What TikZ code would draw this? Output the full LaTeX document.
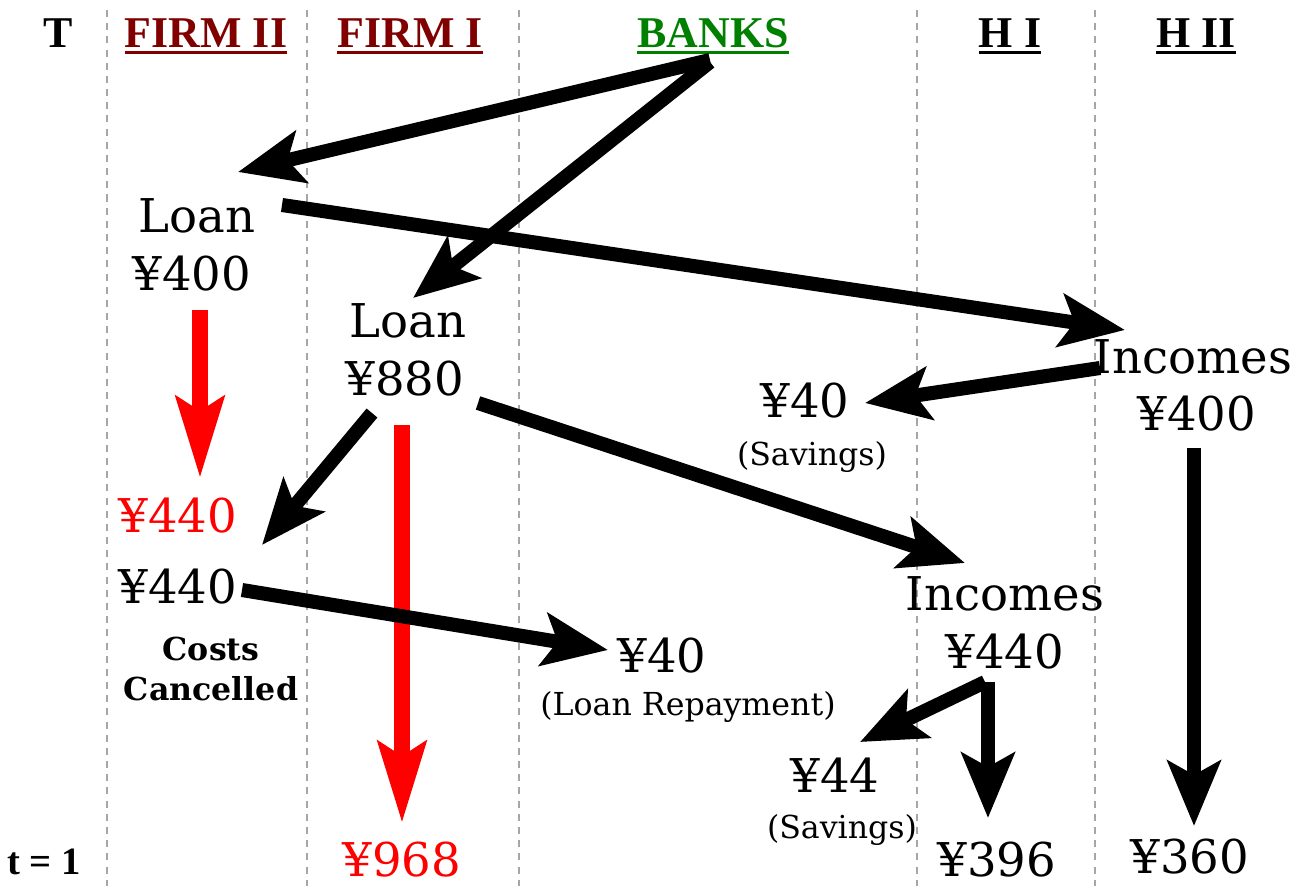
\documentclass[tikz,border=0pt]{standalone}
\usepackage{fontspec}
\setmainfont{Liberation Serif}
\newfontfamily\slabfont{DejaVu Serif}
\newcommand{\ulhead}[1]{\vtop{\hbox{#1}\kern2.2pt\hrule height1.7pt}}
\usepackage{xcolor}
\usepackage{tikz}
\usetikzlibrary{arrows.meta}
\tikzset{>={Stealth[length=37pt,width=30pt,inset=8pt]}}
\definecolor{firmred}{RGB}{128,0,0}
\definecolor{bankgreen}{RGB}{0,128,0}

\begin{document}
\begin{tikzpicture}[
				x=0.02cm, y=-0.02cm,
				lane/.style = {
					draw=gray!70, line width=0.6pt,
					dash pattern=on 4pt off 3.5pt
				},
				head/.style = {
					anchor=base, inner sep=0pt,
					font=\fontsize{25}{30}\selectfont\bfseries
				},
				amount/.style = {
					anchor=base, inner sep=0pt,
					font=\fontsize{26.5}{30}\selectfont\slabfont
				},
				note/.style = {
					anchor=base, inner sep=0pt, align=center,
					font=\fontsize{18}{22.7}\selectfont\slabfont
				},
				flow/.style = {
					->, line width=8pt
				},
				cost/.style = {
					>={Stealth[length=46pt,width=27pt,inset=8pt]},
					->, red, line width=9pt
				}
			]
				\useasboundingbox (0,0) rectangle (1294,886);
				\foreach \x in {107,307,519,917,1095}
					\draw[lane] (\x,10) -- (\x,886);
				% column heads
				\node[head] (colT) at (58,47) {T};
				\node[head, text=firmred] (colF2) at (206,47) {\ulhead{FIRM II}};
				\node[head, text=firmred] (colF1) at (410,47) {\ulhead{FIRM I}};
				\node[head, text=bankgreen] (colB) at (713,47) {\ulhead{BANKS}};
				\node[head] (colH1) at (1010,47) {\ulhead{H I}};
				\node[head] (colH2) at (1196,47) {\ulhead{H II}};
				\node[head, font=\fontsize{22}{26}\selectfont\bfseries] (tOne) at (44,874) {t = 1};
				% amounts
				\node[amount] (loanII) at (197,232) {Loan};
				\node[amount] (loanIIv) at (192,290) {¥400};
				\node[amount] (loanI) at (408,337) {Loan};
				\node[amount] (loanIv) at (405,395) {¥880};
				\node[amount] (incII) at (1193,373) {Incomes};
				\node[amount] (incIIv) at (1197,430) {¥400};
				\node[amount] (savA) at (805,417) {¥40};
				\node[note] (savAl) at (812,465) {(Savings)};
				\node[amount, text=red] (redA) at (178,532) {¥440};
				\node[amount] (costA) at (178,603) {¥440};
				\node[note, font=\fontsize{18}{22.7}\selectfont\slabfont\bfseries] (costAl) at (211,700)
					{Costs\\Cancelled};
				\node[amount] (repA) at (662,672) {¥40};
				\node[note] (repAl) at (688,715) {(Loan Repayment)};
				\node[amount] (incI) at (1005,610) {Incomes};
				\node[amount] (incIv) at (1005,668) {¥440};
				\node[amount] (savB) at (835,792) {¥44};
				\node[note] (savBl) at (842,838) {(Savings)};
				\node[amount] (resI) at (997,876) {¥396};
				\node[amount] (resII) at (1190,873) {¥360};
				\node[amount, text=red] (redB) at (402,876) {¥968};
				% flows
				\draw[cost] ([shift={(8,20)}]loanIIv.base) -- ([shift={(22,-54)}]redA.base);
				\draw[cost] ([shift={(-3,30)}]loanIv.base) -- ([shift={(0,-53)}]redB.base);
				\draw[flow] ([shift={(-3,13)}]colB.base) -- ([shift={(41,-60)}]loanII.base);
				\draw[flow] ([shift={(-3,15)}]colB.base) -- ([shift={(5,-39)}]loanI.base);
				\draw[flow] ([shift={(85,-27)}]loanII.base) -- ([shift={(-68,-43)}]incII.base);
				\draw[flow] ([shift={(-93,-5)}]incII.base) -- ([shift={(60,-14)}]savA.base);
				\draw[flow] ([shift={(-33,18)}]loanIv.base) -- ([shift={(84,-58)}]costA.base);
				\draw[flow] ([shift={(73,8)}]loanIv.base) -- ([shift={(-40,-47)}]incI.base);
				\draw[flow] ([shift={(64,-13)}]costA.base) -- ([shift={(-54,-22)}]repA.base);
				\draw[flow] ([shift={(-20,14)}]incIv.base) -- ([shift={(25,-50)}]savB.base);
				\draw[flow] ([shift={(-17,14)}]incIv.base) -- ([shift={(-9,-58)}]resI.base);
				\draw[flow] ([shift={(-3,18)}]incIIv.base) -- ([shift={(4,-47)}]resII.base);
			\end{tikzpicture}
\end{document}
